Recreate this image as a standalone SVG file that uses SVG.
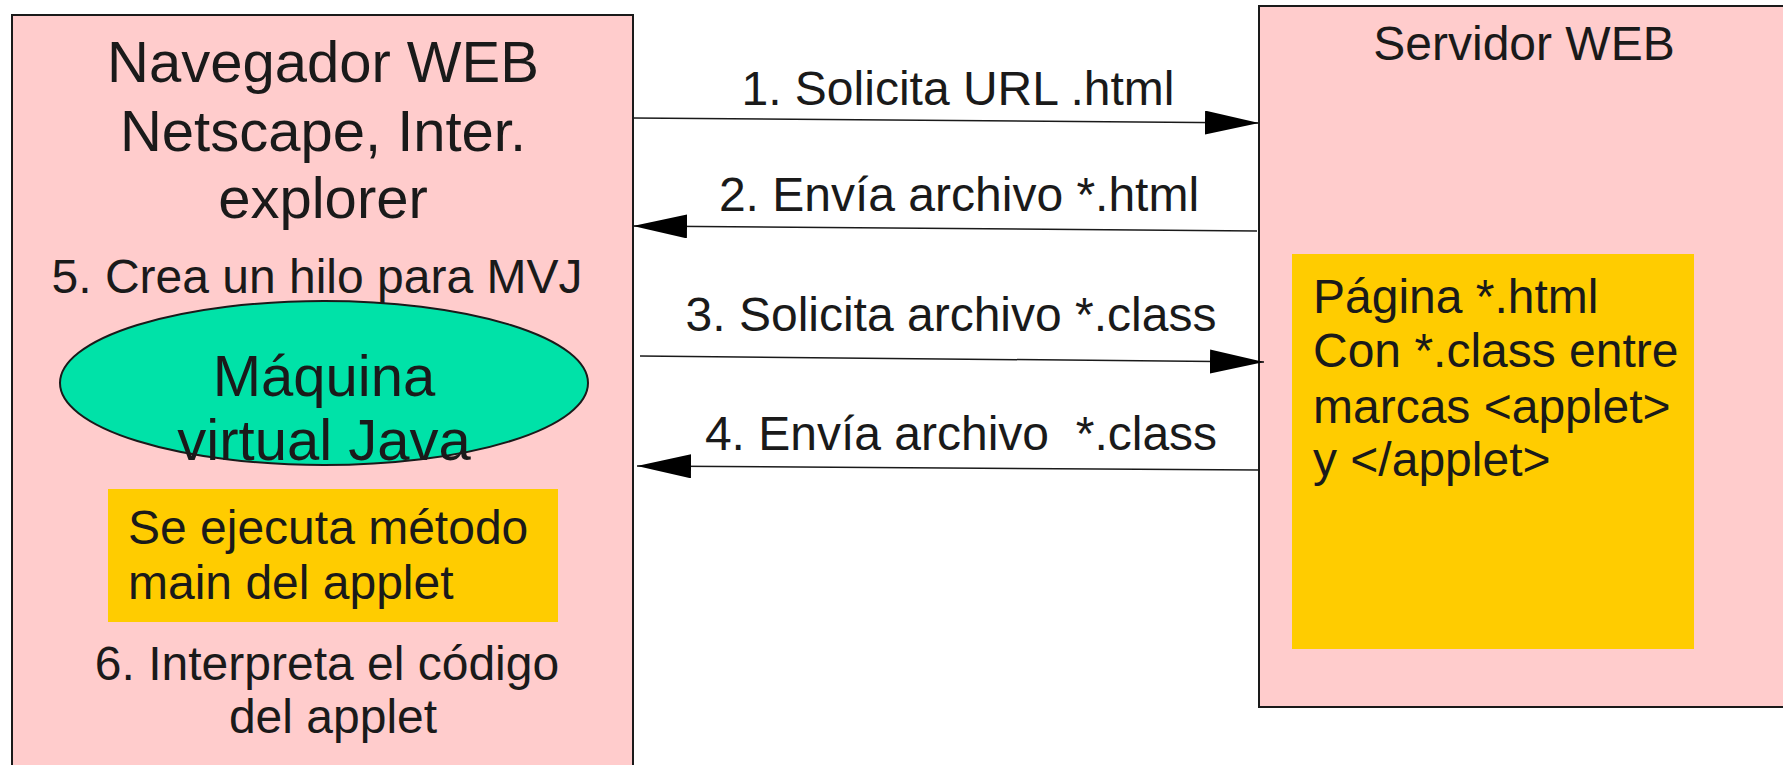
<svg xmlns="http://www.w3.org/2000/svg" width="1783" height="765" viewBox="0 0 1783 765">
<style>
text{font-family:"Liberation Sans",Arial,sans-serif;fill:#1a1a1a}
.box{fill:#ffcccc;stroke:#1a1a1a;stroke-width:2}
.note{fill:#ffcc00;stroke:none}
.big{font-size:58px}
.med{font-size:48px}
.c{text-anchor:middle}
.conn{stroke:#1a1a1a;stroke-width:1.5;fill:none}
</style>
<defs>
<marker id="ah" markerUnits="userSpaceOnUse" markerWidth="56" markerHeight="26" refX="54" refY="12" orient="auto">
<path d="M0,0 L54,12 L0,24 Z" fill="#000"/>
</marker>
</defs>
<rect width="1783" height="765" fill="#ffffff"/>
<g id="navegador">
<rect class="box" x="12" y="15" width="621" height="770"/>
<text class="big c" x="323" y="82">Navegador WEB</text>
<text class="big c" x="323" y="151">Netscape, Inter.</text>
<text class="big c" x="323" y="218">explorer</text>
<text class="med c" x="317" y="293">5. Crea un hilo para MVJ</text>
</g>
<g id="mvj">
<ellipse cx="324" cy="383" rx="264" ry="82" fill="#00e2a8" stroke="#1a1a1a" stroke-width="2"/>
<text class="big c" x="324" y="396">Máquina</text>
<text class="big c" x="324" y="460">virtual Java</text>
</g>
<g id="ejecuta">
<rect class="note" x="108" y="489" width="450" height="133"/>
<text class="med" x="128" y="544">Se ejecuta método</text>
<text class="med" x="128" y="599">main del applet</text>
</g>
<g id="interpreta">
<text class="med c" x="327" y="680">6. Interpreta el código</text>
<text class="med c" x="333" y="733">del applet</text>
</g>
<g id="servidor">
<rect class="box" x="1259" y="6" width="560" height="701"/>
<text class="med c" x="1524" y="60">Servidor WEB</text>
</g>
<g id="pagina">
<rect class="note" x="1292" y="254" width="402" height="395"/>
<text class="med" x="1313" y="313">Página *.html</text>
<text class="med" x="1313" y="367">Con *.class entre</text>
<text class="med" x="1313" y="423">marcas &lt;applet&gt;</text>
<text class="med" x="1313" y="476">y &lt;/applet&gt;</text>
</g>
<g id="connectors">
<line class="conn" x1="633" y1="118" x2="1259" y2="123" marker-end="url(#ah)"/>
<line class="conn" x1="1257" y1="231" x2="633" y2="226" marker-end="url(#ah)"/>
<line class="conn" x1="640" y1="356" x2="1264" y2="362" marker-end="url(#ah)"/>
<line class="conn" x1="1259" y1="470" x2="637" y2="466" marker-end="url(#ah)"/>
<text class="med c" x="958" y="105">1. Solicita URL .html</text>
<text class="med c" x="959" y="211">2. Envía archivo *.html</text>
<text class="med c" x="951" y="331">3. Solicita archivo *.class</text>
<text class="med c" x="961" y="450" xml:space="preserve">4. Envía archivo  *.class</text>
</g>
</svg>
